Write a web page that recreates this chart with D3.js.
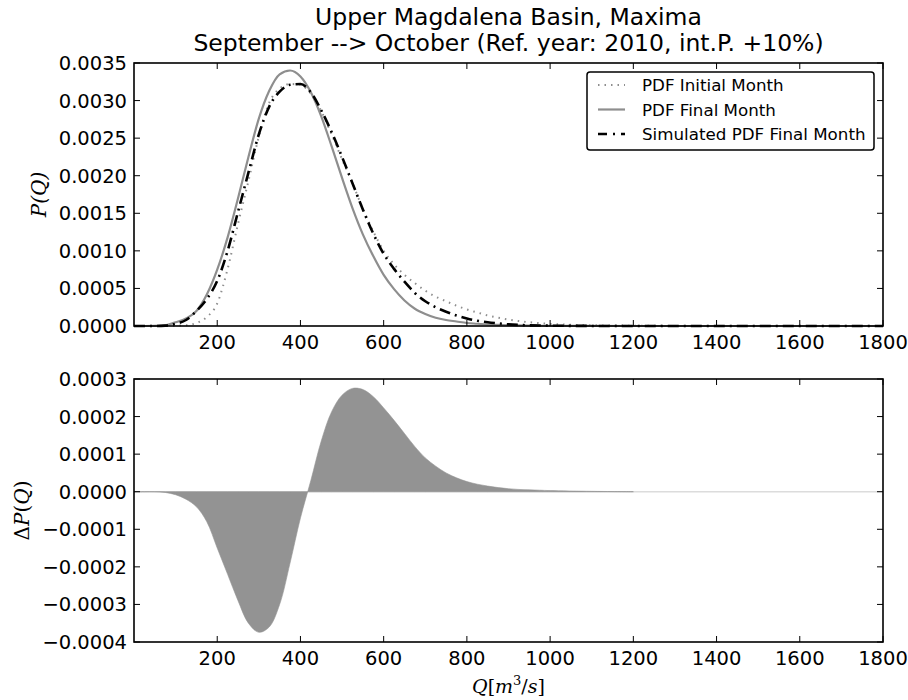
<!DOCTYPE html>
<html>
<head>
<meta charset="utf-8">
<script src="https://cdn.jsdelivr.net/npm/d3@7"></script>
<style>
  body { margin: 0; background: #fff; }
  svg { display: block; }
  text { font-family: "DejaVu Sans", sans-serif; fill: #000; }
</style>
</head>
<body>
<div id="chart"></div>
<script>
// discharge grid Q [m3/s]
const qGrid = [0,25,50,75,100,125,150,175,200,225,250,275,300,325,350,375,400,425,450,475,500,
  525,550,575,600,625,650,675,700,725,750,775,800,825,850,875,900,925,950,975,1000,
  1100,1200,1300,1400,1500,1600,1700,1800];

const pdfInitial = [0,0,0,0,0.000005,0.00001,0.00004,0.00012,0.0003,0.00076,0.00136,0.00193,0.00252,0.00297,0.00316,0.00322,0.00321,
  0.00309,0.00286,0.00255,0.00222,0.0019,0.00156,0.00126,0.001,0.00082,0.00068,0.00057,0.00047,0.00039,0.00033,0.00027,0.00022,
  0.00018,0.00014,0.00011,0.000085,0.000065,0.00005,0.000038,0.000028,0.00001,0.000004,0.000001,0,0,0,0,0];

const pdfFinal = [0,0,0.000002,0.00001,0.00005,0.0001,0.0002,0.00042,0.00075,0.00118,0.0017,0.00225,0.00276,0.00313,0.00335,0.0034,0.00332,
  0.00311,0.00279,0.00239,0.00197,0.00157,0.00122,0.00093,0.00068,0.00049,0.00034,0.00023,0.00016,0.00011,0.00008,0.00006,0.00004,
  0.00003,0.00002,0.000015,0.00001,0.000007,0.000005,0.000003,0.000002,0.000001,0,0,0,0,0,0,0];

const pdfSimulated = [0,0,0,0.000005,0.00003,0.00008,0.0002,0.00036,0.0006,0.001,0.00152,0.00204,0.00255,0.00292,0.00312,0.00321,0.00322,
  0.00311,0.00287,0.00258,0.00225,0.0019,0.00155,0.00123,0.00096,0.00076,0.00059,0.00044,0.00033,0.00025,0.00019,0.00014,0.0001,
  0.00007,0.00005,0.000035,0.000022,0.000014,0.000009,0.000006,0.000004,0.000001,0,0,0,0,0,0,0];

const deltaP = [0,0,0,-0.000002,-0.000008,-0.00002,-0.00004,-0.00008,-0.00015,-0.00022,-0.00029,-0.00035,-0.000374,-0.00036,-0.0003,-0.00019,-0.00007,
  0.00003,0.000135,0.000213,0.000257,0.000275,0.000272,0.000253,0.000223,0.00019,0.000155,0.00012,0.00009,0.000068,0.00005,0.000037,0.000027,
  0.00002,0.000015,0.000011,0.000008,0.000006,0.000005,0.000004,0.000003,0.000001,0,0,0,0,0,0,0];

const xTicks = [200,400,600,800,1000,1200,1400,1600,1800];
const yTicksTop = [0,0.0005,0.001,0.0015,0.002,0.0025,0.003,0.0035];
const yTicksBottom = [-0.0004,-0.0003,-0.0002,-0.0001,0,0.0001,0.0002,0.0003];
const legendLabels = ["PDF Initial Month", "PDF Final Month", "Simulated PDF Final Month"];
const titleLines = ["Upper Magdalena Basin, Maxima", "September --> October (Ref. year: 2010, int.P. +10%)"];

const W = 908, H = 700;
const left = 134, right = 883;
const top1 = 63, bot1 = 326, top2 = 379, bot2 = 642;
const grey = "#8e8e8e";
const tickFont = "19.5px";

const svg = d3.select("#chart").append("svg").attr("width", W).attr("height", H);

const x = d3.scaleLinear().domain([0, 1800]).range([left, right]);
const yTop = d3.scaleLinear().domain([0, 0.0035]).range([bot1, top1]);
const yBot = d3.scaleLinear().domain([-0.0004, 0.0003]).range([bot2, top2]);

// title
svg.selectAll("text.title").data(titleLines).enter().append("text")
  .attr("class", "title")
  .attr("x", (left + right) / 2)
  .attr("y", (d, i) => 25 + i * 26)
  .attr("text-anchor", "middle")
  .style("font-size", "23.5px")
  .text(d => d);

function fmt4(v) {
  const s = Math.abs(v).toFixed(4);
  return v < -1e-12 ? "\u2212" + s : s;
}

function frame(y, yt, top, bot) {
  const g = svg.append("g");
  // ticks, inside on all four sides
  xTicks.forEach(t => {
    g.append("line").attr("x1", x(t)).attr("x2", x(t)).attr("y1", bot).attr("y2", bot - 6).attr("stroke", "#000");
    g.append("line").attr("x1", x(t)).attr("x2", x(t)).attr("y1", top).attr("y2", top + 6).attr("stroke", "#000");
    g.append("text").attr("x", x(t)).attr("y", bot + 23).attr("text-anchor", "middle")
      .style("font-size", tickFont).text(t);
  });
  yt.forEach(t => {
    g.append("line").attr("x1", left).attr("x2", left + 6).attr("y1", y(t)).attr("y2", y(t)).attr("stroke", "#000");
    g.append("line").attr("x1", right).attr("x2", right - 6).attr("y1", y(t)).attr("y2", y(t)).attr("stroke", "#000");
    g.append("text").attr("x", left - 7).attr("y", y(t)).attr("dy", "0.36em").attr("text-anchor", "end")
      .style("font-size", tickFont).text(fmt4(t));
  });
  g.append("rect").attr("x", left).attr("y", top).attr("width", right - left).attr("height", bot - top)
    .attr("fill", "none").attr("stroke", "#000").attr("stroke-width", 1.6);
}

// ---- top panel: PDFs
const pts = arr => qGrid.map((q, i) => [q, arr[i]]);
const lineTop = d3.line().x(d => x(d[0])).y(d => yTop(d[1])).curve(d3.curveMonotoneX);
const topG = svg.append("g");
topG.append("path").datum(pts(pdfInitial)).attr("d", lineTop)
  .attr("fill", "none").attr("stroke", grey).attr("stroke-width", 2).attr("stroke-dasharray", "1.5,5");
topG.append("path").datum(pts(pdfFinal)).attr("d", lineTop)
  .attr("fill", "none").attr("stroke", grey).attr("stroke-width", 2.2);
topG.append("path").datum(pts(pdfSimulated)).attr("d", lineTop)
  .attr("fill", "none").attr("stroke", "#000").attr("stroke-width", 2.6).attr("stroke-dasharray", "11,5,2,5");
frame(yTop, yTicksTop, top1, bot1);

// legend
const lg = svg.append("g").attr("transform", "translate(587,72)");
lg.append("rect").attr("width", 287).attr("height", 78).attr("rx", 3)
  .attr("fill", "#fff").attr("stroke", "#000").attr("stroke-width", 1.5);
const legStyles = [
  {stroke: grey, w: 2, dash: "1.5,5"},
  {stroke: grey, w: 2.2, dash: null},
  {stroke: "#000", w: 2.6, dash: "9,6,2,6"}
];
legendLabels.forEach((lab, i) => {
  const yy = 13 + i * 24.5;
  lg.append("line").attr("x1", 11).attr("x2", 38).attr("y1", yy).attr("y2", yy)
    .attr("stroke", legStyles[i].stroke).attr("stroke-width", legStyles[i].w)
    .attr("stroke-dasharray", legStyles[i].dash);
  lg.append("text").attr("x", 55).attr("y", yy).attr("dy", "0.36em").style("font-size", "16.7px").text(lab);
});

// ---- bottom panel: delta
const botG = svg.append("g");
botG.append("line").attr("x1", left).attr("x2", right).attr("y1", yBot(0)).attr("y2", yBot(0))
  .attr("stroke", "#dcdcdc").attr("stroke-width", 1.5);
const fillPts = pts(deltaP).filter(d => d[0] <= 1200);
botG.append("path").datum(fillPts)
  .attr("d", d3.area().x(d => x(d[0])).y0(yBot(0)).y1(d => yBot(d[1])).curve(d3.curveCatmullRom.alpha(0.5)))
  .attr("fill", "#939393").attr("stroke", "#939393").attr("stroke-width", 0.6);
frame(yBot, yTicksBottom, top2, bot2);

// axis labels
svg.append("text").attr("transform", `translate(46,${(top1 + bot1) / 2}) rotate(-90)`)
  .attr("text-anchor", "middle")
  .style("font-family", "'DejaVu Serif', serif").style("font-style", "italic").style("font-size", "20px")
  .text("P(Q)");
svg.append("text").attr("transform", `translate(29,${(top2 + bot2) / 2}) rotate(-90)`)
  .attr("text-anchor", "middle")
  .style("font-family", "'DejaVu Serif', serif").style("font-size", "20px")
  .html('Δ<tspan font-style="italic">P</tspan>(<tspan font-style="italic">Q</tspan>)');
svg.append("text").attr("x", (left + right) / 2).attr("y", 693).attr("text-anchor", "middle")
  .style("font-family", "'DejaVu Serif', serif").style("font-size", "19px")
  .html('<tspan font-style="italic">Q</tspan>[<tspan font-style="italic">m</tspan><tspan font-size="13px" dy="-8">3</tspan><tspan dy="8">/</tspan><tspan font-style="italic">s</tspan>]');
</script>
</body>
</html>
